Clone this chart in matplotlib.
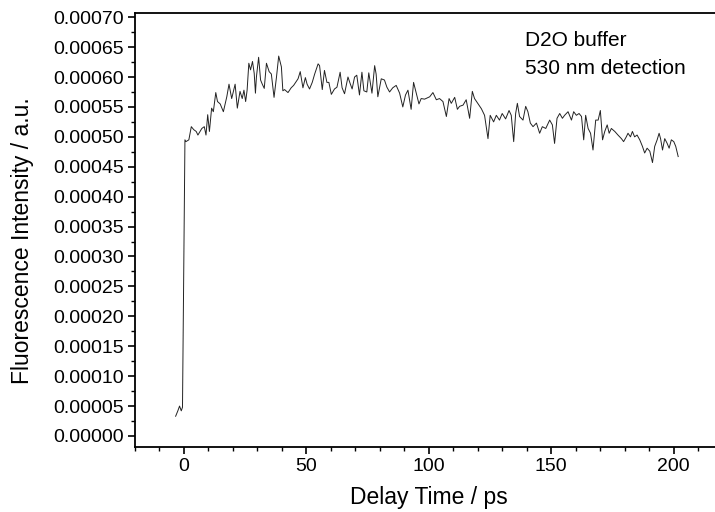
import matplotlib.pyplot as plt
import numpy as np
from matplotlib.ticker import MultipleLocator, FormatStrFormatter

plt.rcParams['font.family'] = ['Liberation Sans', 'DejaVu Sans']

# delay time (ps)
delay = [-3.4, -2.5, -1.8, -1.1, -0.6, 0.4, 0.8, 2.0, 3.0, 4.0, 5.0, 5.7, 7.3, 8.3, 9.0,
         9.7, 10.4, 11.3, 12.0, 13.0, 13.7, 14.8, 16.1, 17.5, 18.4, 19.5, 20.9, 21.8, 22.9,
         23.8, 24.5, 25.2, 25.8, 26.5, 27.2, 28.0, 28.7, 29.2, 29.6, 30.5, 31.3, 32.0, 32.8,
         33.7, 34.8, 35.7, 36.8, 37.8, 38.7, 39.8, 40.4, 41.1, 42.5, 43.8, 44.8, 45.6, 46.6,
         47.5, 48.6, 49.6, 50.3, 51.3, 52.4, 53.4, 54.8, 55.4, 56.5, 57.4, 58.4, 59.2, 60.2,
         61.5, 62.5, 63.8, 64.6, 65.6, 67.0, 67.9, 68.7, 69.7, 70.6, 71.7, 72.7, 73.5, 74.7,
         75.5, 76.8, 77.9, 78.5, 79.2, 80.6, 81.9, 82.9, 84.0, 85.3, 86.7, 88.1, 89.4, 90.5,
         91.5, 92.8, 93.8, 94.6, 96.0, 96.9, 98.3, 100.4, 101.7, 103.1, 104.4, 105.8, 107.2,
         108.3, 109.2, 110.6, 111.7, 112.6, 114.0, 115.3, 116.7, 117.8, 118.7, 120.0, 121.5,
         122.8, 124.2, 125.1, 126.5, 127.6, 128.9, 130.0, 131.4, 132.8, 133.7, 134.7, 135.5,
         136.2, 137.1, 138.5, 139.6, 140.5, 141.5, 142.6, 144.0, 145.3, 146.4, 147.8, 149.4,
         150.5, 151.4, 152.4, 153.5, 154.6, 155.5, 156.9, 158.3, 159.2, 160.3, 161.4, 162.4,
         163.3, 164.1, 165.1, 166.1, 167.1, 168.2, 169.2, 170.1, 171.0, 171.9, 172.9, 173.7,
         174.6, 176.0, 177.3, 178.7, 179.6, 180.7, 181.4, 182.4, 183.2, 184.1, 185.1, 186.2,
         187.3, 188.2, 189.2, 190.3, 191.4, 192.3, 193.3, 194.1, 194.7, 195.5, 196.4, 197.4,
         198.2, 199.1, 200.1, 200.9, 201.9]

# fluorescence intensity in units of 1e-5
intensity = [3.3, 4.2, 5.0, 4.2, 4.8, 49.5, 49.2, 49.5, 51.7, 51.2, 50.9, 50.3, 51.4, 51.7, 50.3,
             53.7, 50.9, 54.8, 54.2, 57.4, 55.9, 55.5, 54.2, 56.7, 58.8, 56.4, 58.8, 54.8, 57.6,
             56.4, 57.8, 55.9, 57.8, 62.3, 61.2, 62.6, 60.6, 57.3, 60.0, 63.3, 59.5, 58.8, 58.1,
             62.3, 60.9, 60.5, 56.6, 60.0, 63.5, 61.7, 57.7, 57.9, 57.4, 58.2, 58.6, 59.1, 59.7,
             60.9, 58.2, 59.9, 58.8, 58.0, 59.1, 60.5, 62.2, 61.9, 57.9, 61.1, 59.1, 59.1, 57.1,
             58.0, 58.3, 60.8, 58.2, 57.2, 60.0, 58.9, 58.0, 60.0, 60.3, 57.0, 60.8, 57.7, 57.5,
             60.7, 57.3, 61.9, 60.5, 56.7, 59.7, 59.5, 58.3, 57.5, 58.2, 58.6, 57.3, 55.0, 57.0,
             57.8, 54.6, 59.1, 57.8, 55.5, 56.4, 56.3, 56.7, 57.4, 56.2, 56.4, 55.9, 53.4,
             56.4, 55.6, 56.6, 54.6, 55.1, 55.3, 56.2, 53.1, 57.6, 56.4, 55.6, 54.7,
             53.6, 49.7, 53.6, 52.5, 53.6, 52.8, 53.9, 53.0, 54.4, 53.6, 49.2, 53.9,
             55.6, 53.4, 52.8, 55.1, 54.2, 52.3, 51.7, 52.3, 50.6, 51.7, 51.4, 52.8,
             52.0, 48.9, 53.1, 53.9, 53.1, 53.6, 54.2, 52.8, 54.2, 53.6, 53.9, 53.4,
             49.5, 53.6, 51.4, 50.6, 47.8, 52.8, 52.8, 54.4, 49.5, 50.9, 52.0, 50.6,
             51.4, 50.9, 50.3, 49.7, 49.2, 50.0, 50.6, 50.0, 50.9, 50.0, 50.3, 49.5,
             48.4, 47.3, 48.1, 47.6, 45.7, 48.4, 49.5, 50.6, 49.7, 47.8, 49.7, 48.9,
             48.1, 49.5, 49.2, 48.4, 46.7]

t = np.array(delay)
y = np.array(intensity) * 1e-5

fig = plt.figure(figsize=(7.15, 5.12), dpi=100)
ax = fig.add_axes([135 / 715, 65.5 / 512, 587.5 / 715, 433.5 / 512])

ax.plot(t, y, color='#222222', lw=0.7)

ax.set_xlim(-20, 220)
ax.set_ylim(-0.0000176, 0.000707)

ax.xaxis.set_major_locator(MultipleLocator(50))
ax.xaxis.set_minor_locator(MultipleLocator(10))
ax.yaxis.set_major_locator(MultipleLocator(0.00005))
ax.yaxis.set_minor_locator(MultipleLocator(0.000025))
ax.yaxis.set_major_formatter(FormatStrFormatter('%.5f'))

ax.spines['right'].set_visible(False)
for s in ('left', 'bottom', 'top'):
    ax.spines[s].set_linewidth(1.3)
ax.tick_params(which='major', direction='out', length=5, width=1.2, labelsize=14, pad=3)
ax.tick_params(which='minor', direction='out', length=3, width=1.0)
ax.tick_params(top=False, right=False)

ax.set_xlabel("Delay Time / ps", fontsize=16.5, labelpad=8)
ax.set_ylabel("Fluorescence Intensity / a.u.", fontsize=16.5)
ax.yaxis.set_label_coords(-0.172, 0.474)

# annotation placed in pixel coords (from bottom-left of figure)
ax.text(525, 512 - 31, "D2O buffer", fontsize=15, transform=None, va='top', ha='left')
ax.text(525, 512 - 59, "530 nm detection", fontsize=15, transform=None, va='top', ha='left')

plt.savefig("out.png", dpi=100)
